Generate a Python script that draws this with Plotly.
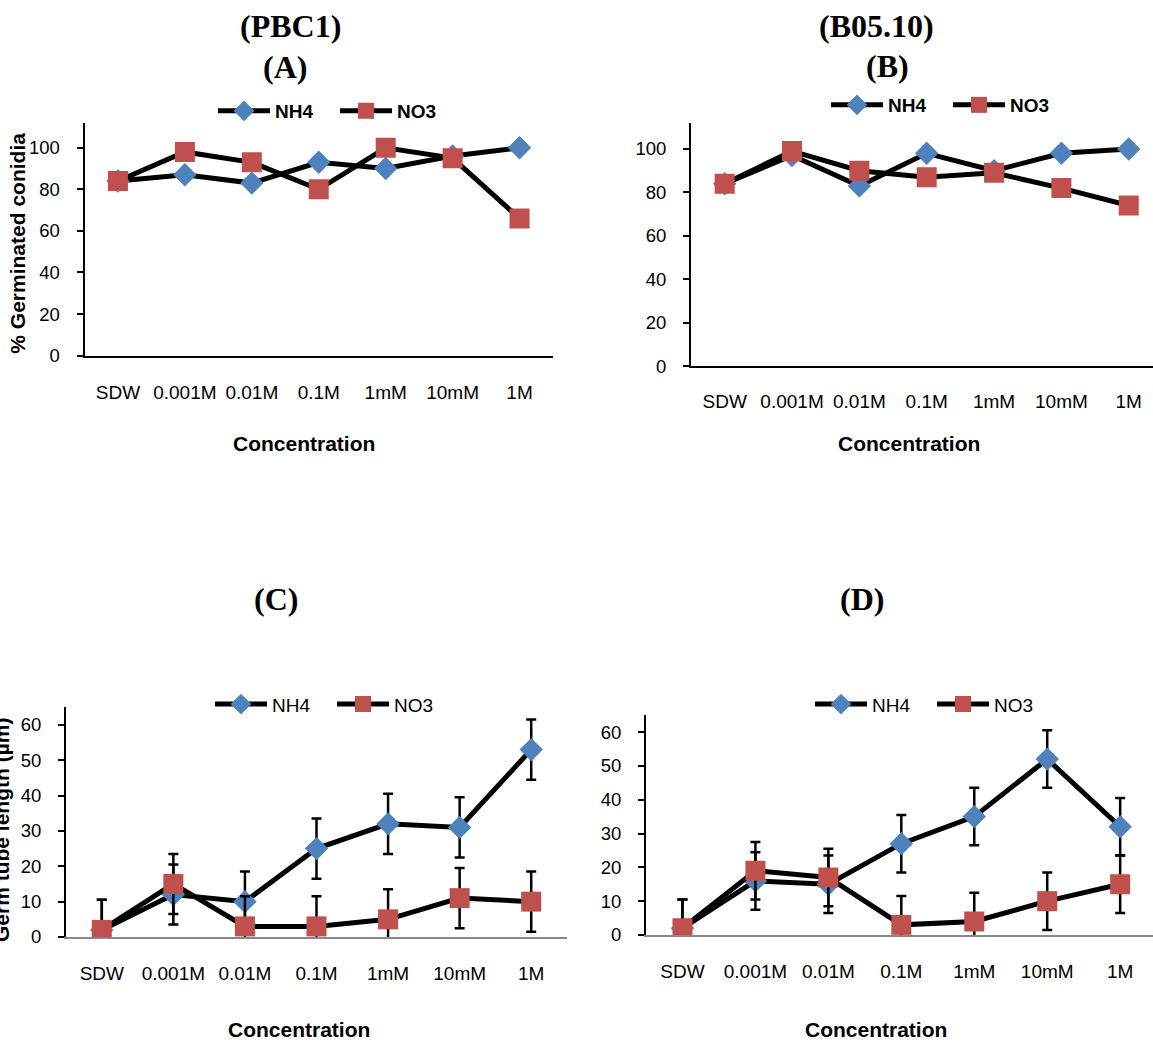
import plotly.graph_objects as go

categories = ["SDW", "0.001M", "0.01M", "0.1M", "1mM", "10mM", "1M"]

# Panel A (PBC1) - % germinated conidia
a_nh4 = [84, 87, 83, 93, 90, 96, 100]
a_no3 = [84, 98, 93, 80, 100, 95, 66]
# Panel B (B05.10) - % germinated conidia
b_nh4 = [84, 97, 83, 98, 90, 98, 100]
b_no3 = [84, 99, 90, 87, 89, 82, 74]
# Panel C - germ tube length (um)
c_nh4 = [2, 12, 10, 25, 32, 31, 53]
c_no3 = [2, 15, 3, 3, 5, 11, 10]
c_nh4_err = [8.5, 8.5, 8.5, 8.5, 8.5, 8.5, 8.5]
c_no3_err = [8.5, 8.5, 8.5, 8.5, 8.5, 8.5, 8.5]
# Panel D - germ tube length (um)
d_nh4 = [2, 16, 15, 27, 35, 52, 32]
d_no3 = [2, 19, 17, 3, 4, 10, 15]
d_nh4_err = [8.5, 8.5, 8.5, 8.5, 8.5, 8.5, 8.5]
d_no3_err = [8.5, 8.5, 8.5, 8.5, 8.5, 8.5, 8.5]

W, H = 1153, 1050
BLUE = "#4F81BD"
RED = "#C0504D"
SANS = "Liberation Sans, Arial, sans-serif"
SERIF = "Liberation Serif, Times New Roman, serif"


def px(x):
    return x / W


def py(y):
    return 1 - y / H


fig = go.Figure()

panels = [
    dict(k="", x0=84.5, x1=553, xr=[-0.5, 6.5], yt=124, yb=359, yr=[0, 112], dt=20,
         nh4=a_nh4, no3=a_no3, e1=None, e2=None, xlc="black", bold=True, lg=(213, 112), so=19),
    dict(k="2", x0=691, x1=1153, xr=[-0.5, 6.36], yt=124, yb=370, yr=[0, 112], dt=20,
         nh4=b_nh4, no3=b_no3, e1=None, e2=None, xlc="black", bold=True, lg=(826, 106), so=17),
    dict(k="3", x0=66, x1=567, xr=[-0.5, 6.5], yt=714, yb=946, yr=[0, 65], dt=10,
         nh4=c_nh4, no3=c_no3, e1=c_nh4_err, e2=c_no3_err, xlc="#888888", bold=False, lg=(210, 711), so=18),
    dict(k="4", x0=646, x1=1153, xr=[-0.5, 6.45], yt=722, yb=944, yr=[0, 65], dt=10,
         nh4=d_nh4, no3=d_no3, e1=d_nh4_err, e2=d_no3_err, xlc="#888888", bold=False, lg=(810, 711), so=18),
]

layout = dict(
    width=W, height=H, margin=dict(l=0, r=0, t=0, b=0),
    paper_bgcolor="white", plot_bgcolor="white", showlegend=True,
)

for i, p in enumerate(panels):
    k = p["k"]
    xa = "x" + k
    ya = "y" + k
    lgname = "legend" + k
    for name, vals, err, color, sym, size in [
        ("NH4", p["nh4"], p["e1"], BLUE, "diamond", 18),
        ("NO3", p["no3"], p["e2"], RED, "square", 20),
    ]:
        tr = dict(
            x=categories, y=vals, name=name, mode="lines+markers",
            line=dict(color="black", width=5),
            marker=dict(symbol=sym, size=size, color=color, line=dict(width=0)),
            xaxis=xa, yaxis=ya, legend=lgname, cliponaxis=True,
        )
        if err is not None:
            tr["error_y"] = dict(type="data", array=err, visible=True,
                                 color="black", thickness=2.5, width=5)
        fig.add_trace(go.Scatter(**tr))

    lf = dict(family=SANS, size=19, color="black")
    if p["bold"]:
        lf["weight"] = "bold"
    layout[lgname] = dict(
        x=px(p["lg"][0]), y=py(p["lg"][1]), xanchor="left", yanchor="middle",
        orientation="h", font=lf, bgcolor="rgba(0,0,0,0)", itemwidth=52,
        entrywidth=55, entrywidthmode="pixels", tracegroupgap=0,
    )

    layout["xaxis" + k] = dict(
        domain=[px(p["x0"]), px(p["x1"])], range=p["xr"], anchor=ya,
        type="category", showgrid=False, zeroline=False,
        showline=True, linecolor=p["xlc"], linewidth=2, ticks="",
        tickfont=dict(family=SANS, size=19, color="black"),
        ticklabelstandoff=p["so"], fixedrange=True,
    )
    layout["yaxis" + k] = dict(
        domain=[py(p["yb"]), py(p["yt"])], range=p["yr"], anchor=xa,
        showgrid=False, zeroline=False, dtick=p["dt"], tick0=0,
        showline=True, linecolor="black", linewidth=2,
        ticks="outside", ticklen=6, tickwidth=2, tickcolor="black",
        tickfont=dict(family=SANS, size=18.5, color="black"),
        ticklabelstandoff=13, fixedrange=True,
    )

fig.update_layout(**layout)

annotations = []


def ann(text, x, y, font, size, bold=True, angle=0):
    annotations.append(dict(
        text=("<b>" + text + "</b>") if bold else text,
        x=px(x), y=py(y), xref="paper", yref="paper",
        xanchor="center", yanchor="middle", showarrow=False, textangle=angle,
        font=dict(family=font, size=size, color="black"),
    ))


# panel titles
ann("(PBC1)", 290, 26, SERIF, 32)
ann("(A)", 285, 68, SERIF, 32)
ann("(B05.10)", 876, 26, SERIF, 32)
ann("(B)", 887, 67, SERIF, 32)
ann("(C)", 276, 605, SERIF, 32)
ann("(D)", 862, 605, SERIF, 32)
# axis titles
ann("Concentration", 304, 448, SANS, 21)
ann("Concentration", 909, 448, SANS, 21)
ann("Concentration", 299, 1039, SANS, 21)
ann("Concentration", 876, 1039, SANS, 21)
ann("% Germinated conidia", 18, 246, SANS, 21, angle=-90)
ann("Germ tube length (µm)", 1, 838, SANS, 21, angle=-90)

fig.update_layout(annotations=annotations)

fig.write_html(
    "out.html",
    config={"displayModeBar": False, "staticPlot": True},
    post_script="document.body.style.margin='0';document.body.style.overflow='hidden';",
)
